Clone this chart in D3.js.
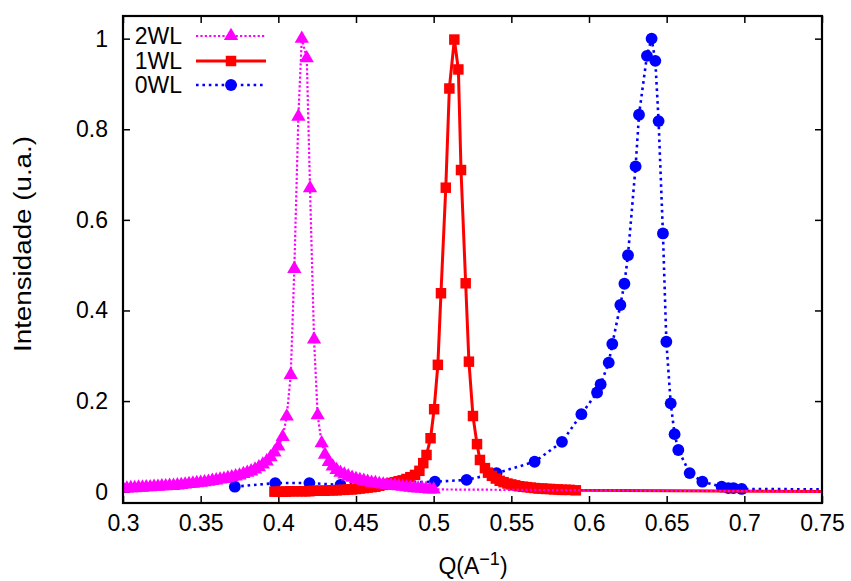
<!DOCTYPE html>
<html>
<head>
<meta charset="utf-8">
<script src="https://cdn.jsdelivr.net/npm/d3@7"></script>
<style>
  html, body { margin: 0; padding: 0; background: #fff; }
  svg { display: block; }
  text { font-family: "Liberation Sans", Arial, Helvetica, sans-serif; fill: #000; }
</style>
</head>
<body>
<svg id="chart" width="851" height="581"></svg>
<script>
// ---------------- data ----------------
const xTicks = [0.3, 0.35, 0.4, 0.45, 0.5, 0.55, 0.6, 0.65, 0.7, 0.75];
const yTicks = [0, 0.2, 0.4, 0.6, 0.8, 1];
const seriesNames = ["2WL", "1WL", "0WL"];

// 2WL (magenta, triangles)
const q2WL = [0.300,0.3025,0.305,0.3075,0.310,0.3125,0.315,0.3175,0.320,0.3225,0.325,0.3275,0.330,0.3325,0.335,0.3375,0.340,0.3425,0.345,0.3475,0.350,0.3525,0.355,0.3575,0.360,0.3625,0.365,0.3675,0.370,0.3725,0.375,0.3775,0.380,0.3825,0.385,0.3875,0.390,0.3925,0.395,0.3975,0.400,0.4028,0.4054,0.408,0.4103,0.4129,0.4151,0.4183,0.4204,0.423,0.4253,0.4279,0.430,0.4325,0.435,0.4375,0.440,0.4425,0.445,0.4475,0.450,0.4525,0.455,0.4575,0.460,0.4625,0.465,0.4675,0.470,0.4725,0.475,0.4775,0.480,0.4825,0.485,0.4875,0.490,0.4925,0.495,0.4975,0.500,0.760];
const i2WL = [0.007,0.007,0.008,0.008,0.009,0.009,0.010,0.010,0.011,0.011,0.012,0.012,0.013,0.013,0.014,0.015,0.016,0.017,0.018,0.019,0.020,0.021,0.022,0.024,0.025,0.027,0.028,0.030,0.032,0.034,0.036,0.039,0.042,0.045,0.049,0.054,0.060,0.067,0.076,0.087,0.100,0.121,0.166,0.258,0.492,0.828,1.000,0.957,0.670,0.336,0.169,0.107,0.082,0.066,0.056,0.048,0.042,0.038,0.034,0.031,0.028,0.026,0.024,0.022,0.020,0.019,0.017,0.016,0.015,0.014,0.013,0.012,0.011,0.010,0.009,0.008,0.007,0.007,0.006,0.005,0.005,0.000];

// 1WL (red, squares)
const q1WL = [0.3975,0.400,0.4025,0.405,0.4075,0.410,0.4125,0.415,0.4175,0.420,0.4225,0.425,0.4275,0.430,0.4325,0.435,0.4375,0.440,0.4425,0.445,0.4475,0.450,0.4525,0.455,0.4575,0.460,0.4625,0.465,0.4675,0.470,0.4725,0.475,0.4775,0.480,0.4825,0.485,0.488,0.4908,0.4933,0.4954,0.498,0.5003,0.5027,0.5047,0.5078,0.5101,0.5133,0.5159,0.5176,0.5206,0.5227,0.5253,0.5279,0.5298,0.533,0.535,0.5375,0.540,0.5425,0.545,0.5475,0.550,0.5525,0.555,0.5575,0.560,0.5625,0.565,0.5675,0.570,0.5725,0.575,0.5775,0.580,0.5825,0.585,0.5875,0.5915,0.760];
const i1WL = [0.000,0.000,0.000,0.000,0.001,0.001,0.001,0.001,0.001,0.001,0.002,0.002,0.002,0.002,0.003,0.003,0.003,0.004,0.004,0.005,0.005,0.006,0.007,0.008,0.009,0.010,0.011,0.013,0.015,0.017,0.019,0.021,0.023,0.025,0.028,0.032,0.037,0.046,0.063,0.081,0.118,0.182,0.280,0.438,0.671,0.890,0.998,0.932,0.710,0.460,0.287,0.167,0.105,0.070,0.052,0.042,0.035,0.029,0.024,0.021,0.018,0.016,0.014,0.012,0.011,0.010,0.009,0.008,0.007,0.007,0.006,0.006,0.005,0.005,0.004,0.004,0.004,0.003,0.000];

// 0WL (blue, circles)
const q0WL = [0.372,0.398,0.420,0.440,0.460,0.480,0.5008,0.5212,0.5405,0.565,0.5826,0.5951,0.6052,0.6075,0.6127,0.615,0.6202,0.6228,0.6251,0.630,0.6322,0.6373,0.6403,0.6427,0.6448,0.6476,0.6498,0.6526,0.6551,0.6575,0.6648,0.673,0.6854,0.6897,0.693,0.6983,0.760];
const i0WL = [0.011,0.019,0.019,0.015,0.019,0.020,0.022,0.026,0.041,0.066,0.110,0.171,0.219,0.237,0.285,0.326,0.412,0.459,0.522,0.718,0.832,0.962,1.000,0.951,0.818,0.570,0.331,0.195,0.127,0.092,0.041,0.022,0.011,0.008,0.008,0.006,0.005];

// ---------------- chart ----------------
const svg = d3.select("#chart");
const L = 123, R = 822, T = 16, B = 503;
const x = d3.scaleLinear().domain([0.3, 0.75]).range([L, R]);
const y = d3.scaleLinear().domain([-0.025, 1.05]).range([B, T]);

const FONT = 23;

// clip
svg.append("defs").append("clipPath").attr("id", "clip")
  .append("rect").attr("x", L).attr("y", T).attr("width", R - L).attr("height", B - T);

// axes (inward ticks, mirrored)
const tickLen = 7;
const gx = svg.append("g").attr("transform", `translate(0,${B})`)
  .call(d3.axisBottom(x).tickValues(xTicks).tickSize(-tickLen).tickPadding(12).tickFormat(d3.format("")));
const gxt = svg.append("g").attr("transform", `translate(0,${T})`)
  .call(d3.axisTop(x).tickValues(xTicks).tickSize(-tickLen).tickFormat(""));
const gy = svg.append("g").attr("transform", `translate(${L},0)`)
  .call(d3.axisLeft(y).tickValues(yTicks).tickSize(-tickLen).tickPadding(15).tickFormat(d3.format("")));
const gyr = svg.append("g").attr("transform", `translate(${R},0)`)
  .call(d3.axisRight(y).tickValues(yTicks).tickSize(-tickLen).tickFormat(""));

[gx, gxt, gy, gyr].forEach(g => {
  g.select(".domain").remove();
  g.selectAll(".tick line").attr("stroke", "#000").attr("stroke-width", 1.5);
  g.selectAll(".tick text").attr("font-size", FONT).style("font-family", "Liberation Sans, Arial, sans-serif").attr("fill", "#000");
});

// series
const series = [
  { name: "0WL", q: q0WL, v: i0WL, color: "#0000ff", width: 2.6, dash: "2.6 3.8", marker: "circle" },
  { name: "1WL", q: q1WL, v: i1WL, color: "#ff0000", width: 3, dash: null, marker: "square" },
  { name: "2WL", q: q2WL, v: i2WL, color: "#ff00ff", width: 2.2, dash: "2.2 2.2", marker: "triangle" }
];

const symbolFor = m => m === "circle" ? d3.symbol().type(d3.symbolCircle).size(110)
  : m === "square" ? d3.symbol().type(d3.symbolSquare).size(110)
  : d3.symbol().type(d3.symbolTriangle).size(88);

const plot = svg.append("g").attr("clip-path", "url(#clip)");
const line = d3.line().x(d => x(d[0])).y(d => y(d[1]));

series.forEach(s => {
  const pts = s.q.map((q, i) => [q, s.v[i]]);
  const g = plot.append("g");
  g.append("path").datum(pts).attr("d", line)
    .attr("fill", "none").attr("stroke", s.color).attr("stroke-width", s.width)
    .attr("stroke-dasharray", s.dash).attr("stroke-linejoin", "round");
  g.selectAll("path.m").data(pts.filter(p => p[0] <= 0.75)).enter().append("path")
    .attr("class", "m")
    .attr("d", symbolFor(s.marker))
    .attr("transform", p => `translate(${x(p[0])},${y(p[1])})`)
    .attr("fill", s.color);
});

// frame
svg.append("rect").attr("x", L).attr("y", T).attr("width", R - L).attr("height", B - T)
  .attr("fill", "none").attr("stroke", "#000").attr("stroke-width", 2.2);

// legend
const legendRows = [
  { name: "2WL", s: series[2], yy: 36 },
  { name: "1WL", s: series[1], yy: 61 },
  { name: "0WL", s: series[0], yy: 85 }
];
const lg = svg.append("g");
legendRows.forEach(r => {
  lg.append("text").attr("x", 182).attr("y", r.yy).attr("dy", "0.36em")
    .attr("text-anchor", "end").attr("font-size", FONT).text(r.name);
  lg.append("line").attr("x1", 196).attr("x2", 266).attr("y1", r.yy).attr("y2", r.yy)
    .attr("stroke", r.s.color).attr("stroke-width", r.s.width).attr("stroke-dasharray", r.s.dash);
  lg.append("path").attr("d", symbolFor(r.s.marker)).attr("transform", `translate(231,${r.yy})`)
    .attr("fill", r.s.color);
});

// axis titles
const xt = svg.append("text").attr("x", 473).attr("y", 574).attr("text-anchor", "middle").attr("font-size", FONT);
xt.append("tspan").text("Q(A");
xt.append("tspan").attr("font-size", 18).attr("dy", -9).text("\u22121");
xt.append("tspan").attr("dy", 9).text(")");

svg.append("text").attr("transform", "translate(31,244) rotate(-90)")
  .attr("text-anchor", "middle").attr("font-size", FONT)
  .attr("textLength", 216).attr("lengthAdjust", "spacingAndGlyphs")
  .text("Intensidade (u.a.)");
</script>
</body>
</html>
